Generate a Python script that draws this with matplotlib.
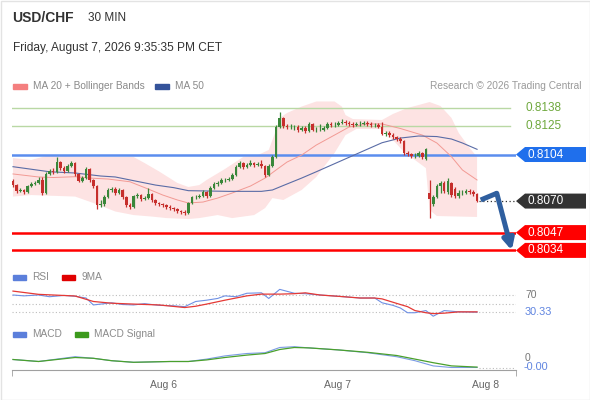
import numpy as np
import matplotlib.pyplot as plt
from matplotlib.patches import Polygon, Rectangle
from matplotlib.transforms import blended_transform_factory

plt.rcParams['font.family'] = ['Liberation Sans', 'DejaVu Sans']

# ---------------- USD/CHF 30 min candles ----------------
opens = [0.80847, 0.80817, 0.80774, 0.80781, 0.80766, 0.80810, 0.80825, 0.80832,
         0.80854, 0.80759, 0.80898, 0.80920, 0.80912, 0.80985, 0.80941, 0.80920,
         0.80956, 0.80978, 0.80898, 0.80847, 0.80868, 0.80934, 0.80854, 0.80810,
         0.80671, 0.80679, 0.80730, 0.80781, 0.80788, 0.80759, 0.80781, 0.80730,
         0.80671, 0.80657, 0.80737, 0.80744, 0.80715, 0.80722, 0.80752, 0.80708,
         0.80686, 0.80679, 0.80671, 0.80657, 0.80649, 0.80642, 0.80628, 0.80620,
         0.80613, 0.80686, 0.80730, 0.80730, 0.80737, 0.80766, 0.80737, 0.80795,
         0.80825, 0.80832, 0.80854, 0.80854, 0.80861, 0.80890, 0.80949, 0.80978,
         0.80949, 0.80963, 0.80978, 0.80963, 0.80971, 0.80956, 0.80890, 0.80956,
         0.81022, 0.81241, 0.81307, 0.81248, 0.81241, 0.81241, 0.81241, 0.81219,
         0.81233, 0.81212, 0.81263, 0.81219, 0.81219, 0.81219, 0.81233, 0.81263,
         0.81255, 0.81255, 0.81270, 0.81277, 0.81270, 0.81263, 0.81255, 0.81263,
         0.81263, 0.81270, 0.81263, 0.81255, 0.81255, 0.81241, 0.81190, 0.81197,
         0.81182, 0.81168, 0.81153, 0.81139, 0.81051, 0.81044, 0.81029, 0.81029,
         0.81051, 0.81007, 0.80759, 0.80679, 0.80730, 0.80810, 0.80832, 0.80766,
         0.80832, 0.80788, 0.80737, 0.80759, 0.80759, 0.80774, 0.80766, 0.80752]
highs = [0.80861, 0.80825, 0.80795, 0.80788, 0.80817, 0.80839, 0.80847, 0.80876,
         0.80876, 0.80912, 0.80934, 0.80941, 0.81022, 0.80993, 0.80956, 0.80971,
         0.80993, 0.80985, 0.80905, 0.80883, 0.80949, 0.80941, 0.80861, 0.80817,
         0.80708, 0.80744, 0.80795, 0.80803, 0.80803, 0.80795, 0.80788, 0.80737,
         0.80686, 0.80744, 0.80759, 0.80752, 0.80737, 0.80795, 0.80759, 0.80715,
         0.80693, 0.80686, 0.80679, 0.80671, 0.80657, 0.80649, 0.80635, 0.80635,
         0.80693, 0.80737, 0.80744, 0.80752, 0.80781, 0.80774, 0.80810, 0.80839,
         0.80847, 0.80868, 0.80868, 0.80876, 0.80905, 0.80963, 0.80993, 0.80985,
         0.80978, 0.81000, 0.80985, 0.80985, 0.81000, 0.80963, 0.80971, 0.81036,
         0.81255, 0.81350, 0.81314, 0.81263, 0.81263, 0.81255, 0.81255, 0.81248,
         0.81248, 0.81277, 0.81270, 0.81241, 0.81263, 0.81248, 0.81277, 0.81277,
         0.81277, 0.81285, 0.81299, 0.81292, 0.81285, 0.81277, 0.81277, 0.81285,
         0.81285, 0.81285, 0.81277, 0.81270, 0.81270, 0.81277, 0.81212, 0.81212,
         0.81197, 0.81175, 0.81168, 0.81146, 0.81066, 0.81051, 0.81051, 0.81066,
         0.81058, 0.81087, 0.80854, 0.80744, 0.80825, 0.80847, 0.80847, 0.80868,
         0.80839, 0.80803, 0.80781, 0.80781, 0.80788, 0.80788, 0.80781, 0.80759]
lows = [0.80803, 0.80759, 0.80766, 0.80752, 0.80759, 0.80803, 0.80817, 0.80825,
        0.80744, 0.80752, 0.80890, 0.80898, 0.80905, 0.80927, 0.80905, 0.80912,
        0.80949, 0.80883, 0.80839, 0.80839, 0.80861, 0.80839, 0.80795, 0.80642,
        0.80657, 0.80664, 0.80722, 0.80766, 0.80744, 0.80752, 0.80715, 0.80657,
        0.80642, 0.80649, 0.80722, 0.80701, 0.80708, 0.80715, 0.80693, 0.80671,
        0.80664, 0.80657, 0.80642, 0.80635, 0.80628, 0.80613, 0.80606, 0.80598,
        0.80606, 0.80679, 0.80715, 0.80722, 0.80730, 0.80722, 0.80730, 0.80788,
        0.80810, 0.80825, 0.80839, 0.80847, 0.80854, 0.80883, 0.80941, 0.80934,
        0.80941, 0.80956, 0.80949, 0.80956, 0.80941, 0.80876, 0.80883, 0.80949,
        0.81014, 0.81233, 0.81233, 0.81226, 0.81226, 0.81219, 0.81204, 0.81212,
        0.81197, 0.81204, 0.81212, 0.81204, 0.81212, 0.81212, 0.81226, 0.81241,
        0.81241, 0.81248, 0.81263, 0.81255, 0.81248, 0.81241, 0.81248, 0.81248,
        0.81255, 0.81248, 0.81241, 0.81241, 0.81233, 0.81182, 0.81175, 0.81168,
        0.81153, 0.81139, 0.81124, 0.81036, 0.81029, 0.81014, 0.81014, 0.81022,
        0.81007, 0.81000, 0.80576, 0.80664, 0.80722, 0.80759, 0.80759, 0.80752,
        0.80730, 0.80722, 0.80722, 0.80744, 0.80752, 0.80752, 0.80737, 0.80693]
closes = [0.80817, 0.80774, 0.80781, 0.80766, 0.80810, 0.80825, 0.80832, 0.80854,
          0.80759, 0.80898, 0.80920, 0.80912, 0.80985, 0.80941, 0.80920, 0.80956,
          0.80978, 0.80898, 0.80847, 0.80868, 0.80934, 0.80854, 0.80810, 0.80671,
          0.80679, 0.80730, 0.80781, 0.80788, 0.80759, 0.80781, 0.80730, 0.80671,
          0.80657, 0.80737, 0.80744, 0.80715, 0.80722, 0.80752, 0.80708, 0.80686,
          0.80679, 0.80671, 0.80657, 0.80649, 0.80642, 0.80628, 0.80620, 0.80613,
          0.80686, 0.80730, 0.80730, 0.80737, 0.80766, 0.80737, 0.80795, 0.80825,
          0.80832, 0.80854, 0.80854, 0.80861, 0.80890, 0.80949, 0.80978, 0.80949,
          0.80963, 0.80978, 0.80963, 0.80971, 0.80956, 0.80890, 0.80956, 0.81022,
          0.81241, 0.81307, 0.81248, 0.81241, 0.81241, 0.81241, 0.81219, 0.81233,
          0.81212, 0.81263, 0.81219, 0.81219, 0.81219, 0.81233, 0.81263, 0.81255,
          0.81255, 0.81270, 0.81277, 0.81270, 0.81263, 0.81255, 0.81263, 0.81263,
          0.81270, 0.81263, 0.81255, 0.81255, 0.81241, 0.81190, 0.81197, 0.81182,
          0.81168, 0.81153, 0.81139, 0.81051, 0.81044, 0.81029, 0.81029, 0.81051,
          0.81022, 0.81080, 0.80715, 0.80730, 0.80810, 0.80832, 0.80774, 0.80847,
          0.80744, 0.80737, 0.80759, 0.80759, 0.80774, 0.80766, 0.80752, 0.80700]

day_ticks = [41.3, 88.9, 129.2]
day_labels = ['Aug 6', 'Aug 7', 'Aug 8']

# key levels
resistances = [0.8138, 0.8125]
pivot_level = 0.8104
supports = [0.8047, 0.8034]
last_price = 0.8070
arrow_pivot = (132.4, 0.80757)
arrow_target = (136.5, 0.8034)

# MA 20 + Bollinger bands, MA 50 (read at candle index)
ma20_x = [0, 7, 11, 17, 21, 26, 32, 37, 41, 45, 48, 52, 56, 60, 65, 69, 72, 75,
          79, 83, 88, 92, 97, 101, 106, 112, 116, 120, 123, 127]
ma20_y = [0.80898, 0.80876, 0.80872, 0.80878, 0.80868, 0.80861, 0.80841, 0.80788,
          0.80744, 0.80708, 0.80686, 0.80693, 0.80722, 0.80759, 0.80810, 0.80868,
          0.80927, 0.80985, 0.81036, 0.81109, 0.81182, 0.81241, 0.81263, 0.81263,
          0.81230, 0.81182, 0.81124, 0.81024, 0.80927, 0.80854]
ma50_x = [0, 10, 17, 24, 28, 33, 39, 44, 48, 59, 68, 71, 74, 79, 83, 92, 101, 106,
          111, 116, 120, 123, 127]
ma50_y = [0.80951, 0.80914, 0.80905, 0.80883, 0.80876, 0.80849, 0.80817, 0.80798,
          0.80776, 0.80771, 0.80771, 0.80781, 0.80814, 0.80868, 0.80914, 0.81020,
          0.81126, 0.81160, 0.81175, 0.81171, 0.81153, 0.81124, 0.81078]
bb_up_x = [0, 5, 10, 17, 24, 33, 36, 40, 45, 48, 51, 53, 58, 63, 67, 70, 72, 73,
           75, 79, 83, 88, 90, 91, 93, 101, 104, 108, 111, 114, 117, 120, 122, 125, 127]
bb_up_y = [0.81014, 0.81000, 0.81036, 0.81025, 0.81022, 0.81022, 0.80978, 0.80916,
           0.80832, 0.80803, 0.80817, 0.80854, 0.80934, 0.81022, 0.81036, 0.81073,
           0.81219, 0.81307, 0.81343, 0.81390, 0.81427, 0.81427, 0.81390, 0.81328,
           0.81299, 0.81292, 0.81336, 0.81380, 0.81401, 0.81423, 0.81394, 0.81307,
           0.81197, 0.81087, 0.81022]
bb_lo_x = [0, 5, 17, 22, 28, 33, 38, 42, 48, 51, 56, 60, 66, 69, 71, 74, 79, 83,
           88, 91, 94, 101, 104, 107, 110, 113, 114, 116, 127]
bb_lo_y = [0.80733, 0.80744, 0.80733, 0.80686, 0.80624, 0.80598, 0.80587, 0.80576,
           0.80569, 0.80576, 0.80598, 0.80576, 0.80598, 0.80649, 0.80722, 0.80708,
           0.80781, 0.80876, 0.81051, 0.81182, 0.81226, 0.81226, 0.81146, 0.81058,
           0.81000, 0.80941, 0.80635, 0.80591, 0.80584]

# RSI and its 9 period MA
rsi_x = [0, 3, 7, 10, 14, 17, 20, 22, 25, 27, 30, 33, 36, 40, 44, 47, 50, 53, 56,
         58, 61, 64, 68, 70, 73, 77, 80, 84, 89, 95, 99, 101, 104, 106, 108, 110,
         113, 115, 118, 122, 127]
rsi_y = [70, 68, 70, 66, 69, 67, 63, 47, 50, 52, 48, 47, 50, 46, 45, 43, 55, 58, 62,
         68, 66, 74, 75, 62, 83, 74, 73, 70, 67, 63, 63, 52, 46, 40, 29, 29,
         34, 21, 34, 31, 30.33]
rsi_ma_x = [0, 7, 17, 22, 27, 33, 40, 47, 50, 53, 58, 64, 68, 73, 77, 80, 84, 89,
            95, 99, 101, 106, 108, 110, 113, 115, 118, 122, 127]
rsi_ma_y = [79, 71.5, 67.7, 55, 51, 49, 47, 41, 44, 49, 58, 68, 72, 72, 73, 75, 70,
            67, 63, 63, 61, 48, 43, 34, 29, 27, 28, 31, 31]
rsi_levels = [70, 50, 30]

# MACD and signal
macd_x = [0, 7, 17, 22, 27, 33, 43, 48, 53, 58, 64, 69, 73, 77, 81, 89, 97, 105,
          110, 115, 120, 127]
macd_y = [-0.00003, -0.00008, 0.00004, 0.0, -0.00006, -0.0001, -0.00008, -0.00008,
          -0.00002, 0.00006, 0.00012, 0.00014, 0.00027, 0.00029, 0.00026, 0.00021,
          0.00014, 0.00004, -0.00006, -0.00019, -0.00023, -0.00023]
signal_y = [-0.00003, -0.00008, 0.00002, 0.0, -0.00006, -0.0001, -0.00008, -0.00008,
            -0.00004, 0.00002, 0.00008, 0.00012, 0.00022, 0.00027, 0.00026, 0.00021,
            0.00015, 0.00007, -0.00002, -0.00011, -0.00019, -0.00022]

W, H = 590, 400


def fx(px):
    return px / W


def fy(py):
    return 1 - py / H


fig = plt.figure(figsize=(W / 100, H / 100), dpi=100)
fig.patch.set_facecolor('white')

L, R = 12, 516
xlim = (-0.27, 137.66)
ax = fig.add_axes([fx(L), fy(265), (R - L) / W, 175 / H])
ax_rsi = fig.add_axes([fx(L), fy(320), (R - L) / W, 35 / H])
ax_macd = fig.add_axes([fx(L), fy(370), (R - L) / W, 30 / H])
for a in (ax, ax_rsi, ax_macd):
    a.set_xlim(*xlim)
ax.set_ylim(0.802334, 0.815109)
ax_rsi.set_ylim(12.2, 93.1)
ax_macd.set_ylim(-0.0002925, 0.0004575)
ax.axis('off')
ax_rsi.axis('off')

lab_x = 1 + 9 / (R - L)   # right side labels at ~525px

# ---------- price panel ----------
ax.fill(np.r_[bb_up_x, bb_lo_x[::-1]], np.r_[bb_up_y, bb_lo_y[::-1]],
        color='#fde3e3', lw=0, zorder=1)
ax.plot(ma20_x, ma20_y, color='#f29a94', lw=0.7, zorder=3)
ax.plot(ma50_x, ma50_y, color='#5a6ca6', lw=0.8, zorder=3)

for r in resistances:
    ax.axhline(r, xmax=0.988, color='#b9d8a4', lw=1.0, zorder=2)
    ax.text(lab_x, r, f'{r:.4f}', transform=ax.get_yaxis_transform(), color='#6ea83c',
            fontsize=8.5, va='center', ha='left', clip_on=False)
ax.axhline(pivot_level, color='#5b8dee', lw=1.8, zorder=2)
for s in supports:
    ax.axhline(s, color='#ff0000', lw=1.8, zorder=2)

idx = np.arange(len(closes))
o, h, l, c = map(np.array, (opens, highs, lows, closes))
cols = np.where(c >= o, '#3a873a', '#c62f2c')
ax.vlines(idx, l, h, colors=cols, lw=0.9, zorder=5)
ax.bar(idx, np.maximum(np.abs(c - o), 0.00003), bottom=np.minimum(o, c),
       width=0.72, color=cols, lw=0, zorder=6)

ax.plot([idx[-1] + 0.6, xlim[1]], [last_price, last_price], color='#333333',
        lw=0.9, ls=(0, (1, 2)), zorder=4)

# forecast arrow
ax.plot([idx[-1] + 1.0, arrow_pivot[0]], [c[-1] + 0.00008, arrow_pivot[1]],
        color='#2f5f9f', lw=3.6, solid_capstyle='butt', clip_on=False, zorder=8)
ax.annotate('', xy=arrow_target, xytext=arrow_pivot, annotation_clip=False, zorder=8,
            arrowprops=dict(arrowstyle='-|>', color='#2f5f9f', lw=3.6,
                            mutation_scale=16, shrinkA=0, shrinkB=0))

# price tags
blend = blended_transform_factory(ax.transAxes, ax.transData)
half = 7.5 * (0.815109 - 0.802334) / 175


def tag(y, text, face):
    x0, x1, x2 = 1.0, 1 + 9 / (R - L), 1 + 70 / (R - L)
    ax.add_patch(Polygon([(x0, y), (x1, y + half), (x2, y + half), (x2, y - half),
                          (x1, y - half)], closed=True, transform=blend,
                         facecolor=face, edgecolor='none', clip_on=False, zorder=10))
    ax.text(1 + 11 / (R - L), y, text, transform=blend, color='white', fontsize=8.5,
            va='center', ha='left', clip_on=False, zorder=11)


tag(pivot_level, f'{pivot_level:.4f}', '#1f6fec')
tag(last_price, f'{last_price:.4f}', '#333333')
for s in supports:
    tag(s, f'{s:.4f}', '#ff0000')

# ---------- RSI panel ----------
for v in rsi_levels:
    ax_rsi.axhline(v, color='#bdbdbd', lw=0.8, ls=(0, (1, 2)))
ax_rsi.plot(rsi_x, rsi_y, color='#6f90e4', lw=0.8)
ax_rsi.plot(rsi_ma_x, rsi_ma_y, color='#e53935', lw=0.9)
ax_rsi.text(lab_x, 70, '70', transform=ax_rsi.get_yaxis_transform(), color='#777777',
            fontsize=7.5, va='center', ha='left', clip_on=False)
ax_rsi.text(lab_x, rsi_y[-1], f'{rsi_y[-1]:.2f}', transform=ax_rsi.get_yaxis_transform(),
            color='#5f84e0', fontsize=7.8, va='center', ha='left', clip_on=False)

# ---------- MACD panel ----------
ax_macd.plot(macd_x, macd_y, color='#7b9be4', lw=0.8)
ax_macd.plot(macd_x, signal_y, color='#4aa02c', lw=0.9)
ax_macd.plot([macd_x[-1] + 0.5, xlim[1]], [macd_y[-1], macd_y[-1]], color='#bdbdbd',
             lw=0.8, ls=(0, (1, 2)))
ax_macd.text(lab_x, 0, '0', transform=ax_macd.get_yaxis_transform(), color='#777777',
             fontsize=7.5, va='center', ha='left', clip_on=False)
ax_macd.text(lab_x - 0.002, macd_y[-1], f'{macd_y[-1]:.2f}',
             transform=ax_macd.get_yaxis_transform(), color='#5f84e0', fontsize=7.8,
             va='center', ha='left', clip_on=False)
for sp in ('top', 'left', 'right'):
    ax_macd.spines[sp].set_visible(False)
ax_macd.spines['bottom'].set_color('#a0a0a0')
ax_macd.set_yticks([])
ax_macd.set_xticks(day_ticks)
ax_macd.set_xticklabels(day_labels)
ax_macd.set_xticks(list(xlim), minor=True)
ax_macd.tick_params(axis='x', which='major', length=0, pad=7, labelsize=7.5,
                    labelcolor='#666666')
ax_macd.tick_params(axis='x', which='minor', length=4, color='#a0a0a0', direction='out')
ax_macd.patch.set_alpha(0)

# ---------- header, legends ----------
fig.text(fx(12), fy(18), 'USD/CHF', fontsize=10, fontweight='bold', color='#333333',
         va='center')
fig.text(fx(88), fy(18), '30 MIN', fontsize=8.5, color='#333333', va='center')
fig.text(fx(13), fy(48), 'Friday, August 7, 2026 9:35:35 PM CET', fontsize=8.6,
         color='#333333', va='center')
fig.text(fx(581), fy(86), 'Research \u00a9 2026 Trading Central', fontsize=7.3,
         color='#9a9a9a', va='center', ha='right')


def legend_item(x, y, color, text, sw=14):
    fig.patches.append(Rectangle((fx(x), fy(y + 2.5)), sw / W, 5 / H,
                                 transform=fig.transFigure, color=color))
    fig.text(fx(x + sw + 6), fy(y), text, fontsize=7.3, color='#8a8a8a', va='center')


legend_item(13, 86, '#f47f7f', 'MA 20 + Bollinger Bands')
legend_item(155, 86, '#34539a', 'MA 50')
legend_item(13, 277, '#5b7fdb', 'RSI', sw=13)
legend_item(62, 277, '#e00000', '9MA', sw=13)
legend_item(13, 334, '#5b7fdb', 'MACD', sw=13)
legend_item(75, 334, '#3c9a1c', 'MACD Signal', sw=13)

fig.patches.append(Rectangle((0.5 / W, 0.5 / H), (W - 1) / W, (H - 1) / H,
                             transform=fig.transFigure, fill=False,
                             edgecolor='#e3e3e3', lw=1))

fig.savefig('out.png', dpi=100)
